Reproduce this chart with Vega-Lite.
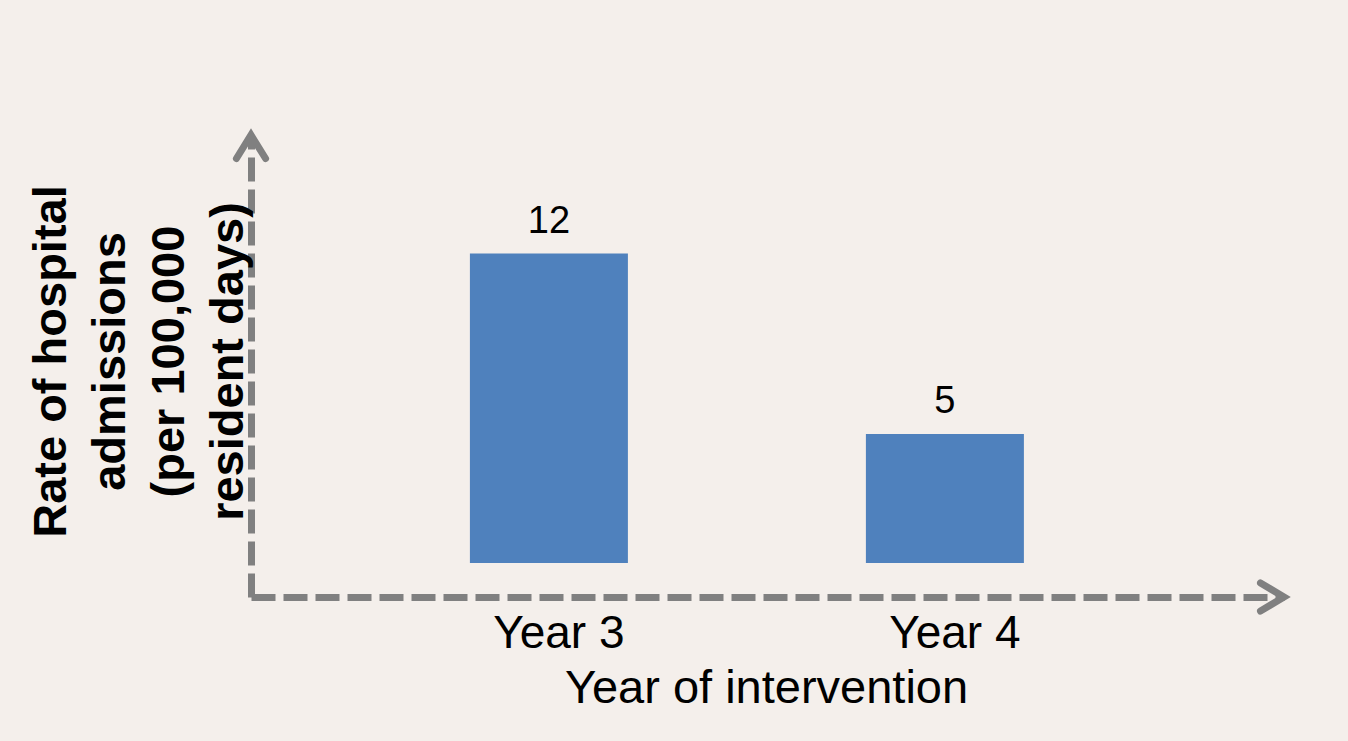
{
  "$schema": "https://vega.github.io/schema/vega-lite/v6.json",
  "width": 1033,
  "height": 462,
  "autosize": {"type": "none"},
  "padding": {"left": 251, "top": 135, "right": 64, "bottom": 144},
  "background": "#f4efeb",
  "config": {
    "view": {"stroke": null},
    "font": "Liberation Sans"
  },
  "data": {
    "values": [
      {"year": "Year 3", "rate": 12},
      {"year": "Year 4", "rate": 5}
    ]
  },
  "encoding": {
    "x": {
      "field": "year",
      "type": "nominal",
      "sort": null,
      "scale": {"paddingInner": 0.601, "paddingOuter": 0.6048, "align": 0.457},
      "axis": {
        "title": "Year of intervention",
        "titleFont": "Liberation Sans",
        "titleFontSize": 47,
        "titleFontWeight": "normal",
        "titleColor": "#000000",
        "titleBaseline": "alphabetic",
        "titleX": 515,
        "titleY": 105,
        "labelAngle": 0,
        "labelFont": "Liberation Sans",
        "labelFontSize": 46,
        "labelColor": "#000000",
        "labelPadding": 14,
        "labelOffset": 10,
        "ticks": false,
        "tickSize": 0,
        "grid": false,
        "domainColor": "#808080",
        "domainWidth": 7,
        "domainDash": [24, 8]
      }
    }
  },
  "layer": [
    {
      "mark": {"type": "bar", "color": "#4f81bd"},
      "encoding": {
        "y": {
          "field": "rate",
          "type": "quantitative",
          "scale": {"domain": [-1.318, 16.595], "nice": false, "zero": false},
          "axis": {
            "title": ["Rate of hospital", "admissions", "(per 100,000", "resident days)"],
            "titleFont": "Liberation Sans",
            "titleFontSize": 47,
            "titleFontWeight": "bold",
            "titleColor": "#000000",
            "titleLineHeight": 59,
            "titleAngle": 270,
            "titleAlign": "center",
            "titleBaseline": "alphabetic",
            "titleX": -186,
            "titleY": 226,
            "labels": false,
            "ticks": false,
            "tickSize": 0,
            "grid": false,
            "domainColor": "#808080",
            "domainWidth": 7,
            "domainDash": [24, 8]
          }
        },
        "y2": {"datum": 0}
      }
    },
    {
      "mark": {
        "type": "text",
        "font": "Liberation Sans",
        "fontSize": 38,
        "color": "#000000",
        "baseline": "alphabetic",
        "dy": -21
      },
      "encoding": {
        "y": {"field": "rate", "type": "quantitative"},
        "text": {"field": "rate", "type": "quantitative"}
      }
    },
    {
      "data": {"values": [{"end": "y"}]},
      "mark": {
        "type": "point",
        "shape": "M -0.62 1 L 0 0 L 0.62 1",
        "size": 2209,
        "filled": false,
        "stroke": "#808080",
        "strokeWidth": 7,
        "strokeCap": "round",
        "strokeJoin": "miter",
        "opacity": 1
      },
      "encoding": {
        "x": {"value": 0},
        "y": {"value": 0}
      }
    },
    {
      "data": {"values": [{"end": "x"}]},
      "mark": {
        "type": "point",
        "shape": "M -1 -0.6 L 0 0 L -1 0.6",
        "size": 2209,
        "filled": false,
        "stroke": "#808080",
        "strokeWidth": 7,
        "strokeCap": "round",
        "strokeJoin": "miter",
        "opacity": 1
      },
      "encoding": {
        "x": {"value": "width"},
        "y": {"value": "height"}
      }
    }
  ]
}
